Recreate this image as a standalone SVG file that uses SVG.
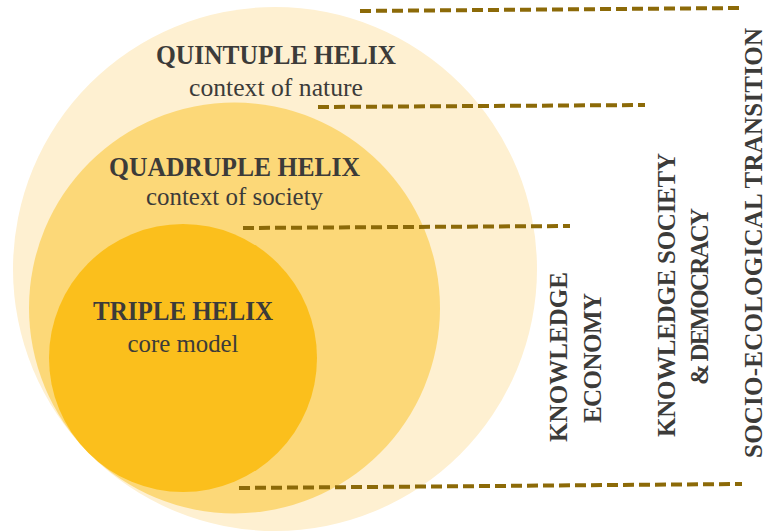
<svg xmlns="http://www.w3.org/2000/svg" width="770" height="531" viewBox="0 0 770 531">
  <style>
    .title { font-family: "Liberation Serif", "DejaVu Serif", serif; font-weight: bold; font-size: 27px; fill: #3c3b39; text-anchor: middle; }
    .sub { font-family: "Liberation Serif", "DejaVu Serif", serif; font-size: 25.5px; fill: #3c3b39; text-anchor: middle; }
    .vert { font-family: "Liberation Serif", "DejaVu Serif", serif; font-weight: bold; font-size: 25px; fill: #3c3b39; text-anchor: middle; }
    .dash { stroke: #8c6a08; stroke-width: 4; stroke-dasharray: 11 5; fill: none; }
  </style>

  <!-- nested helix circles -->
  <g id="quintuple-helix">
    <circle cx="275" cy="269" r="262" fill="#fef0d1"/>
  </g>
  <g id="quadruple-helix">
    <circle cx="234.5" cy="308" r="205.5" fill="#fcd878"/>
  </g>
  <g id="triple-helix">
    <circle cx="183" cy="358" r="134" fill="#fbbf1c"/>
  </g>

  <!-- circle labels -->
  <g id="quintuple-label">
    <text class="title" x="276" y="64" textLength="240" lengthAdjust="spacingAndGlyphs">QUINTUPLE HELIX</text>
    <text class="sub" x="276" y="96" textLength="174" lengthAdjust="spacingAndGlyphs">context of nature</text>
  </g>
  <g id="quadruple-label">
    <text class="title" x="234.5" y="176" textLength="251" lengthAdjust="spacingAndGlyphs">QUADRUPLE HELIX</text>
    <text class="sub" x="234.5" y="205" textLength="177" lengthAdjust="spacingAndGlyphs">context of society</text>
  </g>
  <g id="triple-label">
    <text class="title" x="183" y="320" textLength="180" lengthAdjust="spacingAndGlyphs">TRIPLE HELIX</text>
    <text class="sub" x="183" y="352" textLength="111" lengthAdjust="spacingAndGlyphs">core model</text>
  </g>

  <!-- dashed level markers -->
  <g id="connectors">
    <line class="dash" x1="360" y1="11" x2="741" y2="8"/>
    <line class="dash" x1="318" y1="107" x2="645" y2="105"/>
    <line class="dash" x1="243" y1="228" x2="570" y2="226"/>
    <line class="dash" x1="239" y1="488" x2="742" y2="484"/>
  </g>

  <!-- vertical stage labels -->
  <g id="knowledge-economy">
    <text class="vert" transform="translate(567 357) rotate(-90)" textLength="170" lengthAdjust="spacing">KNOWLEDGE</text>
    <text class="vert" transform="translate(600.5 358) rotate(-90)" textLength="130" lengthAdjust="spacing">ECONOMY</text>
  </g>
  <g id="knowledge-society-democracy">
    <text class="vert" transform="translate(675 295) rotate(-90)" textLength="284" lengthAdjust="spacing">KNOWLEDGE SOCIETY</text>
    <text class="vert" transform="translate(708 296.5) rotate(-90)" textLength="177" lengthAdjust="spacing">&amp; DEMOCRACY</text>
  </g>
  <g id="socio-ecological-transition">
    <text class="vert" transform="translate(762 243) rotate(-90)" textLength="430" lengthAdjust="spacing">SOCIO-ECOLOGICAL  TRANSITION</text>
  </g>
</svg>
